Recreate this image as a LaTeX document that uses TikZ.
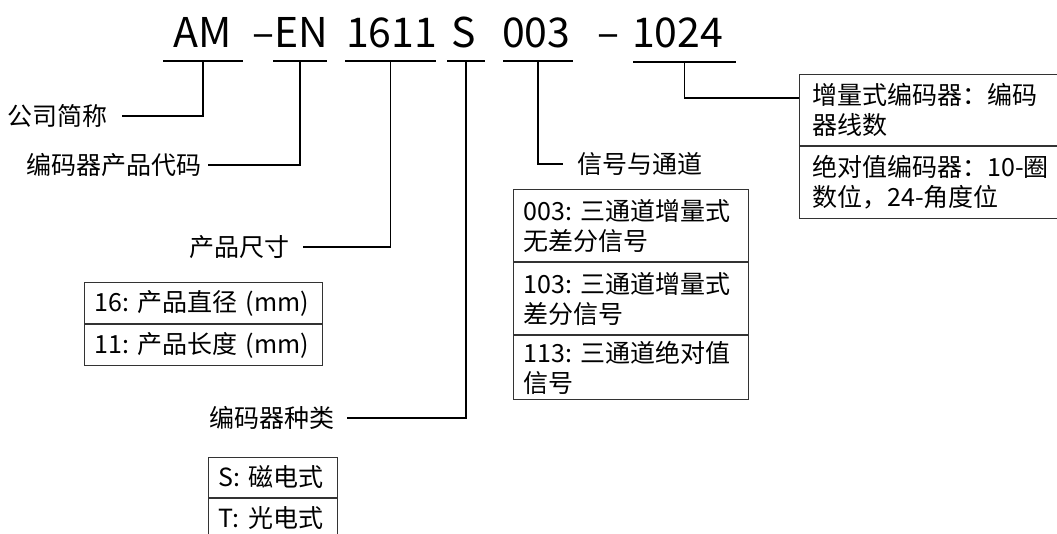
\documentclass[tikz,border=0pt]{standalone}
\usepackage{fontspec}
\setmainfont{Noto Sans CJK SC}
\usetikzlibrary{positioning,calc}

\tikzset{
  codepart/.style={font=\fontsize{41}{41}\selectfont, anchor=base west, inner sep=0pt},
  caption/.style={font=\fontsize{25}{30}\selectfont, inner sep=0pt},
  cell/.style={draw=black!80, line width=1pt, font=\fontsize{25}{30}\selectfont,
    inner xsep=10pt, inner ysep=0pt, align=left},
  wire/.style={line width=1.6pt},
}

\begin{document}
\begin{tikzpicture}[x=1pt, y=-1pt]
  \useasboundingbox (0,0) rectangle (1057,533);

  % Model code
  \node[codepart] (am)   at (173,47) {AM};
  \node[codepart] (en)   at (252,47) {–EN};
  \node[codepart] (size) at (346,47) {1611};
  \node[codepart] (kind) at (451,47) {S};
  \node[codepart] (sig)  at (502,47) {003};
  \node[codepart] (dash) at (597,47) {–};
  \node[codepart] (res)  at (632,47) {1024};

  % Underlines
  \coordinate (amL) at (163,61);   \coordinate (amR) at (243,61);
  \coordinate (enL) at (273,61);   \coordinate (enR) at (327,61);
  \coordinate (sizeL) at (345,61); \coordinate (sizeR) at (436,61);
  \coordinate (kindL) at (447,61); \coordinate (kindR) at (485,61);
  \coordinate (sigL) at (503,61);  \coordinate (sigR) at (573,61);
  \coordinate (resL) at (633,62);  \coordinate (resR) at (736,62);
  \foreach \p in {am,en,size,kind,sig,res}
    \draw[wire] (\p L) -- (\p R);

  % Captions
  \node[caption, anchor=east] (company) at (108,116) {公司简称};
  \node[caption, anchor=east] (product) at (202,165) {编码器产品代码};
  \node[caption, anchor=east] (dims)    at (290,247) {产品尺寸};
  \node[caption, anchor=east] (type)    at (335,418) {编码器种类};
  \node[caption, anchor=west] (signal)  at (577,164) {信号与通道};

  % Boxes
  \node[cell, anchor=north west, text width=218pt, minimum height=41pt] (dia) at (84,282) {16:~产品直径~(mm)};
  \node[cell, below=0pt of dia, text width=218pt, minimum height=41pt] (len) {11:~产品长度~(mm)};

  \node[cell, anchor=north west, text width=109pt, minimum height=40pt] (mag) at (208,457) {S:~磁电式};
  \node[cell, below=0pt of mag, text width=109pt, minimum height=40pt] (opt) {T:~光电式};

  \node[cell, anchor=north west, text width=215pt, minimum height=72pt] (s003) at (513,189) {003:~三通道增量式\\无差分信号};
  \node[cell, below=0pt of s003, text width=215pt, minimum height=72pt] (s103) {103:~三通道增量式\\差分信号};
  \node[cell, below=0pt of s103, text width=215pt, minimum height=64pt] (s113) {113:~三通道绝对值\\信号};

  \node[cell, anchor=north west, inner xsep=13pt, text width=244pt, minimum height=71pt] (inc) at (799,74) {\mbox{增量式编码器：编码}\\器线数};
  \node[cell, below=0pt of inc, inner xsep=13pt, text width=244pt, minimum height=72pt] (abs) {\mbox{绝对值编码器：10-圈}\\\mbox{数位，24-角度位}};

  % Connectors
  \draw[wire, shorten >=14pt] ($(amL)!0.5!(amR)$) |- (company.east);
  \draw[wire, shorten >=6pt]  ($(enL)!0.5!(enR)$) |- (product.east);
  \draw[wire, shorten >=13pt] ($(sizeL)!0.5!(sizeR)$) |- (dims.east);
  \draw[wire, shorten >=12pt] ($(kindL)!0.5!(kindR)$) |- (type.east);
  \draw[wire, shorten >=14pt] ($(sigL)!0.5!(sigR)$) |- (signal.west);
  \draw[wire] ($(resL)!0.5!(resR)$) |- ($(inc.north west)!0.33!(inc.south west)$);
\end{tikzpicture}
\end{document}
